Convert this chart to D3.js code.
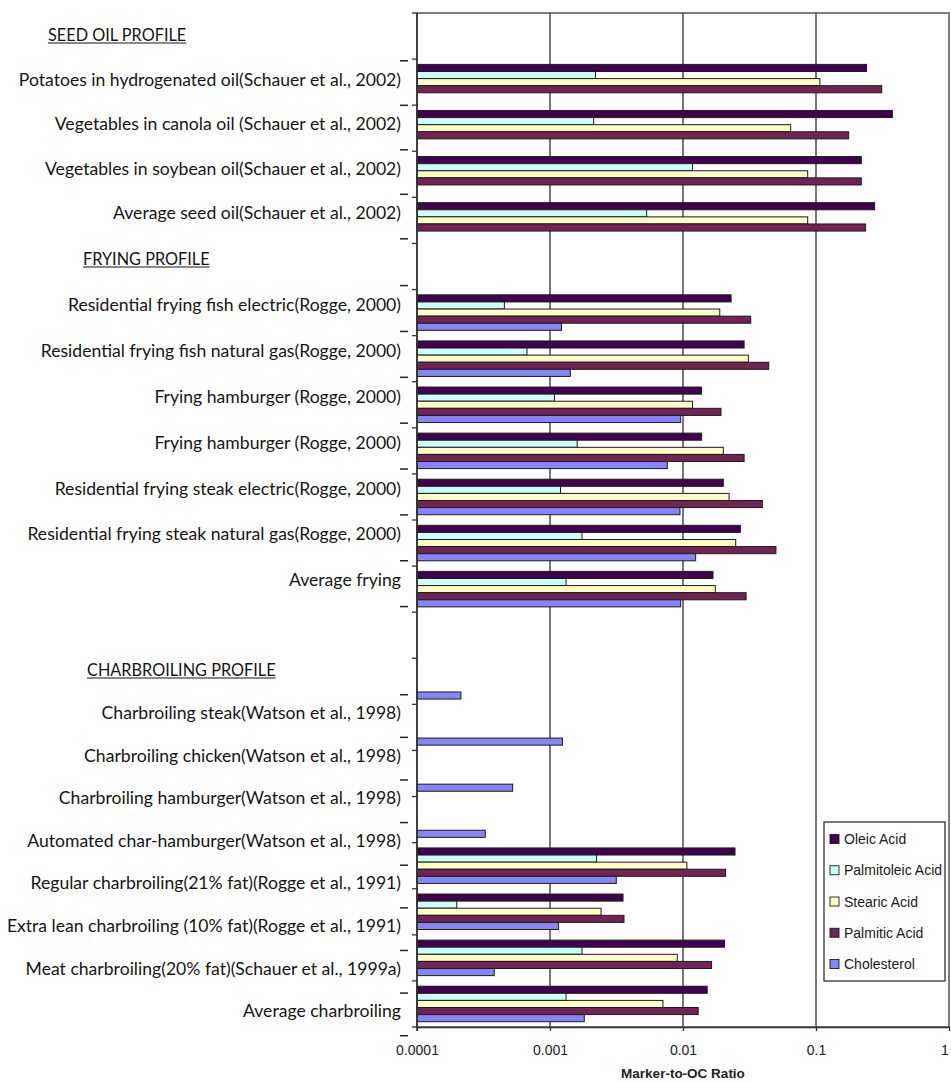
<!DOCTYPE html>
<html>
<head>
<meta charset="utf-8">
<script src="https://cdn.jsdelivr.net/npm/d3@7"></script>
<style>
  html, body { margin: 0; padding: 0; background: #fff; }
  svg { display: block; }
</style>
</head>
<body>
<svg id="chart" width="951" height="1082"></svg>
<script>
// Category rows of the chart, top to bottom ("" = spacer row under a section heading)
const categories = [
  "",
  "Potatoes in hydrogenated oil(Schauer et al., 2002)",
  "Vegetables in canola oil (Schauer et al., 2002)",
  "Vegetables in soybean oil(Schauer et al., 2002)",
  "Average seed oil(Schauer et al., 2002)",
  "",
  "Residential frying fish electric(Rogge, 2000)",
  "Residential frying fish natural gas(Rogge, 2000)",
  "Frying hamburger (Rogge, 2000)",
  "Frying hamburger (Rogge, 2000)",
  "Residential frying steak electric(Rogge, 2000)",
  "Residential frying steak natural gas(Rogge, 2000)",
  "Average frying",
  "",
  "Charbroiling steak(Watson et al., 1998)",
  "Charbroiling chicken(Watson et al., 1998)",
  "Charbroiling hamburger(Watson et al., 1998)",
  "Automated char-hamburger(Watson et al., 1998)",
  "Regular charbroiling(21% fat)(Rogge et al., 1991)",
  "Extra lean charbroiling (10% fat)(Rogge et al., 1991)",
  "Meat charbroiling(20% fat)(Schauer et al., 1999a)",
  "Average charbroiling"
];

const sectionHeadings = ["SEED OIL PROFILE", "FRYING PROFILE", "CHARBROILING PROFILE"];
const sectionRows = [[1, 2, 3, 4], [6, 7, 8, 9, 10, 11, 12], [14, 15, 16, 17, 18, 19, 20, 21]];

const seriesNames = ["Oleic Acid", "Palmitoleic Acid", "Stearic Acid", "Palmitic Acid", "Cholesterol"];

// Marker-to-OC ratios, one entry per category row (null = no bar)
const oleic = [null, 0.240, 0.375, 0.219, 0.276, null,
  0.0230, 0.0288, 0.0138, 0.0138, 0.0201, 0.0270, 0.0168, null,
  null, null, null, null, 0.0246, 0.00354, 0.0205, 0.0152];
const palmitoleic = [null, 0.00220, 0.00213, 0.0118, 0.00533, null,
  0.000454, 0.000671, 0.00108, 0.00160, 0.00120, 0.00174, 0.00132, null,
  null, null, null, null, 0.00224, 0.000199, 0.00174, 0.00132];
const stearic = [null, 0.107, 0.0645, 0.0866, 0.0866, null,
  0.0189, 0.0310, 0.0118, 0.0201, 0.0222, 0.0249, 0.0175, null,
  null, null, null, null, 0.0107, 0.00242, 0.00906, 0.00707];
const palmitic = [null, 0.312, 0.176, 0.219, 0.236, null,
  0.0323, 0.0441, 0.0193, 0.0288, 0.0395, 0.0500, 0.0298, null,
  null, null, null, null, 0.0209, 0.00360, 0.0164, 0.0130];
const cholesterol = [null, null, null, null, null, null,
  0.00122, 0.00142, 0.00960, 0.00762, 0.00949, 0.01245, 0.00960, null,
  0.000214, 0.00124, 0.000524, 0.000326, 0.00315, 0.00116, 0.000381, 0.00181];

const xTickValues = [0.0001, 0.001, 0.01, 0.1, 1];
const xTickLabels = ["0.0001", "0.001", "0.01", "0.1", "1"];
const xTitle = "Marker-to-OC Ratio";

const seriesValues = [oleic, palmitoleic, stearic, palmitic, cholesterol];
const seriesColors = ["#410050", "#cdfefe", "#fefec6", "#712453", "#8684f6"];

// ---- layout ----
const plot = { left: 417, right: 949, top: 13, bottom: 1027 };
const labelRight = 401;
const labelFont = "Lato, 'Open Sans', sans-serif";
const sansFont = "'Liberation Sans', Arial, sans-serif";
// vertical extent of the text column for each section: [heading y, last label y]
const labelColumn = [
  { top: 35, bottom: 213, headingX: 48 },
  { top: 259, bottom: 580, headingX: 83 },
  { top: 670, bottom: 1011, headingX: 87 }
];

const svg = d3.select("#chart");

const x = d3.scaleLog().domain([1e-4, 1]).range([plot.left, plot.right]);
const y = d3.scaleBand()
  .domain(d3.range(categories.length))
  .range([plot.top, plot.bottom])
  .paddingInner(0.23)
  .paddingOuter(0.115);
const ySeries = d3.scaleBand().domain(d3.range(seriesNames.length)).range([0, y.bandwidth()]);

// plot frame and vertical gridlines
svg.append("rect")
  .attr("x", plot.left).attr("y", plot.top)
  .attr("width", plot.right - plot.left).attr("height", plot.bottom - plot.top)
  .attr("fill", "#fff").attr("stroke", "#555").attr("stroke-width", 1.5);

svg.append("g").selectAll("line")
  .data(xTickValues.slice(1, -1))
  .join("line")
  .attr("x1", d => x(d)).attr("x2", d => x(d))
  .attr("y1", plot.top).attr("y2", plot.bottom)
  .attr("stroke", "#4a4a4a").attr("stroke-width", 1.5);

// bars
const barRows = [];
seriesValues.forEach((vals, s) => {
  vals.forEach((v, i) => { if (v != null) barRows.push({ s, i, v }); });
});
svg.append("g").selectAll("rect")
  .data(barRows)
  .join("rect")
  .attr("x", x(1e-4))
  .attr("y", d => y(d.i) + ySeries(d.s))
  .attr("width", d => x(d.v) - x(1e-4))
  .attr("height", ySeries.bandwidth())
  .attr("fill", d => seriesColors[d.s])
  .attr("stroke", "#1c1c1c")
  .attr("stroke-width", 1);

// category axis: line and tick marks between categories
const gap = y.step() - y.bandwidth();
const boundaries = d3.range(categories.length).map(i => y(i) - gap / 2).concat([plot.bottom]);
svg.append("line")
  .attr("x1", plot.left).attr("x2", plot.left)
  .attr("y1", plot.top).attr("y2", plot.bottom + 4)
  .attr("stroke", "#333").attr("stroke-width", 1.6);
svg.append("g").selectAll("line")
  .data(boundaries)
  .join("line")
  .attr("x1", plot.left - 5).attr("x2", plot.left)
  .attr("y1", d => d).attr("y2", d => d)
  .attr("stroke", "#333").attr("stroke-width", 1.3);

// value axis
const xAxis = svg.append("g")
  .attr("transform", `translate(0,${plot.bottom})`)
  .call(d3.axisBottom(x)
    .tickValues(xTickValues)
    .tickFormat((d, i) => xTickLabels[i])
    .tickSizeInner(4).tickSizeOuter(0).tickPadding(14));
xAxis.select(".domain").attr("stroke", "#333").attr("stroke-width", 1.6);
xAxis.selectAll(".tick line").attr("stroke", "#333").attr("stroke-width", 1.3);
xAxis.selectAll(".tick text")
  .attr("font-family", sansFont).attr("font-size", 14).attr("fill", "#222");
// keep the last tick label inside the page edge
xAxis.selectAll(".tick text").filter((d, i) => i === xTickValues.length - 1)
  .attr("text-anchor", "end").attr("dx", "-0.05em");

svg.append("text")
  .attr("x", x(0.01)).attr("y", 1078)
  .attr("text-anchor", "middle")
  .attr("font-family", sansFont).attr("font-size", 13.5).attr("font-weight", "bold")
  .attr("fill", "#222")
  .text(xTitle);

// text column: headings and category labels
const textLayer = svg.append("g").attr("fill", "#151515");
sectionHeadings.forEach((heading, k) => {
  const col = labelColumn[k];
  const ly = d3.scalePoint()
    .domain(["heading"].concat(sectionRows[k]))
    .range([col.top, col.bottom]);

  const h = textLayer.append("text")
    .attr("x", col.headingX).attr("y", ly("heading")).attr("dy", "0.36em")
    .attr("font-family", labelFont).attr("font-size", 16.3)
    .text(heading);
  const hw = h.node().getComputedTextLength();
  textLayer.append("line")
    .attr("x1", col.headingX).attr("x2", col.headingX + hw)
    .attr("y1", ly("heading") + 8).attr("y2", ly("heading") + 8)
    .attr("stroke", "#151515").attr("stroke-width", 1.2);

  textLayer.selectAll(null)
    .data(sectionRows[k])
    .join("text")
    .attr("x", labelRight).attr("y", d => ly(d)).attr("dy", "0.36em")
    .attr("text-anchor", "end")
    .attr("font-family", labelFont).attr("font-size", 17.6)
    .text(d => categories[d]);

  // short dashes above each label in the text column
  const dashYs = sectionRows[k].map(r => ly(r) - ly.step() * 0.42)
    .concat([ly(sectionRows[k][sectionRows[k].length - 1]) + ly.step() * 0.58]);
  textLayer.selectAll(null)
    .data(dashYs)
    .join("line")
    .attr("x1", 400).attr("x2", 408)
    .attr("y1", d => d).attr("y2", d => d)
    .attr("stroke", "#222").attr("stroke-width", 1.5);
});

// legend
const legend = svg.append("g").attr("transform", "translate(824,822)");
legend.append("rect")
  .attr("width", 121).attr("height", 159)
  .attr("fill", "#fff").attr("stroke", "#333").attr("stroke-width", 1.3);
const legendY = d3.scalePoint().domain(d3.range(seriesNames.length)).range([17, 142]);
const items = legend.selectAll("g.item")
  .data(seriesNames)
  .join("g")
  .attr("class", "item")
  .attr("transform", (d, i) => `translate(6,${legendY(i)})`);
items.append("rect")
  .attr("x", 0).attr("y", -4.5).attr("width", 9).attr("height", 9)
  .attr("fill", (d, i) => seriesColors[i])
  .attr("stroke", "#1c1c1c").attr("stroke-width", 0.9);
items.append("text")
  .attr("x", 14).attr("dy", "0.36em")
  .attr("font-family", sansFont).attr("font-size", 14)
  .attr("fill", "#1a1a1a")
  .text(d => d);
</script>
</body>
</html>
